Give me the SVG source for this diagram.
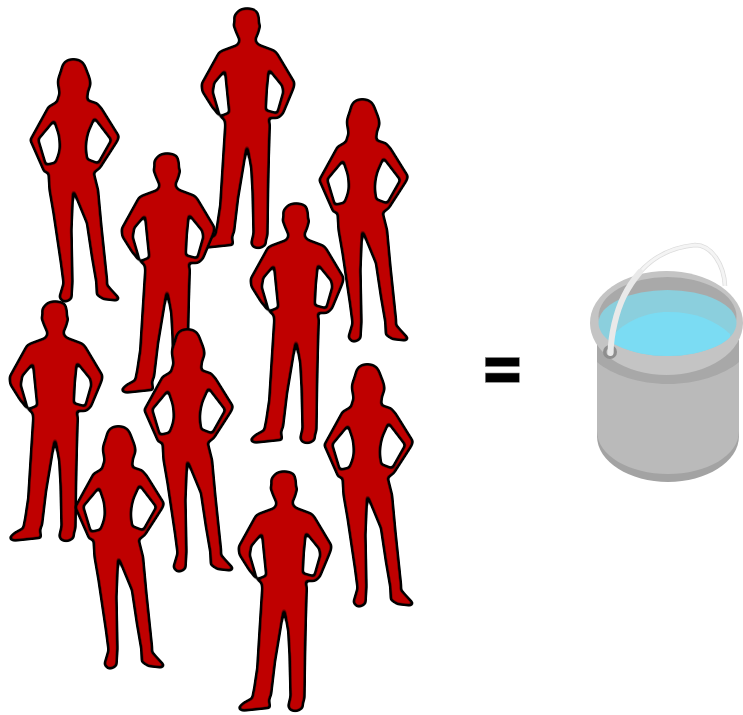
<svg xmlns="http://www.w3.org/2000/svg" xmlns:xlink="http://www.w3.org/1999/xlink" width="743" height="715" viewBox="0 0 743 715">
<style>
.fig{fill:#000;fill-rule:evenodd;filter:url(#outline)}
</style>
<defs>
<filter id="outline" x="-15%" y="-10%" width="130%" height="120%" color-interpolation-filters="sRGB">
<feGaussianBlur in="SourceAlpha" stdDeviation="1.4" result="b"/>
<feComponentTransfer in="b" result="outer"><feFuncA type="linear" slope="5" intercept="-.75"/></feComponentTransfer>
<feComponentTransfer in="b" result="inner"><feFuncA type="linear" slope="5" intercept="-3.75"/></feComponentTransfer>
<feFlood flood-color="#000" result="k"/>
<feComposite in="k" in2="outer" operator="in" result="line"/>
<feFlood flood-color="#bf0000" result="r"/>
<feComposite in="r" in2="inner" operator="in" result="body"/>
<feMerge><feMergeNode in="line"/><feMergeNode in="body"/></feMerge>
</filter>
<path id="man" d="M44.700 .3C52 .3 56.300 3 56.300 7C57.500 10 57 13 57.300 15.300L58.300 18L56.300 25.300L53.700 31.300C54 34 55.500 36 58 37L71.300 42C74 43 75 45 76.300 47L92.300 73.700C93 77 92 80 90.300 83.700L81.300 105.300C79 108 77 110.300 74.700 110.300L67 110.300L68 117L67 150.300L66.300 183.700L65.700 227L64.300 232L63.700 237C61 239 59 240.300 56.300 240.300C53 240.300 51 239 50.300 237.700L49 235.300L51.300 225.300L50.300 183.700L49 160.300L45 137.700L41.300 160.300L36.300 190.300L32.300 223.700L30.300 228.700L31.300 237L5 239.700C1 239.700 -1 237 0 236L4 232L13 227L15 217L18 197L20.300 160L23 117L22.300 112L16.300 107L9.700 98.700L.3 83.700C-.5 80 -.7 78 -.3 75.300L16.300 45.300C18 43.500 19.500 42.500 21.300 42L34.700 37C36 36 37 34 37.300 32L33.700 23.700L31.300 17L32.300 13.700C32 10 32 7 33 7C35 3 39 .3 44.700 .3Z
M22.800 63L12.500 75L11 84L18 108L27 104.500L25 85Z
M67 62L80 78L81 84L75 105L64 102L65 82Z"/>
<path id="woman" d="M43.300 0C50 0 54 3 56 9C57.500 14 60.700 19 60.700 24.300C60.500 28 59 30 58.300 32.700C57.500 36 57.500 39 57.700 41L67.300 44.300L71.700 49.300L89 77C89 80 87 83 85 86L70 109.300L64 113.700L68.300 131L71.700 167.700L77.300 221L77.300 226L89.300 239.300L86.700 241.700L73.300 240.300L66.700 236L66 222.700L61.700 197.700L56.700 164.300L43.300 131.700L41.700 171L42.700 222.700L41.700 239.300C40 241.500 37 242.700 35 242.700C32 242.700 30 240 29.300 237.700L33.300 224.300L30.700 204.300L23.300 154.300L19.300 131L18.300 114.300L14 112.700L0 81L18.300 47.700L26.700 42.700L29.300 34.300L27.700 24.300C27.700 18 30.500 14 31.500 9C33 3 37 0 43.300 0Z
M24 62L8.500 80.500L16 105.500L25 103.500C28 97 29.500 92 29.500 87.700C29.500 82 29 78 28 74Z
M64.500 59.500L81 81L68 104L57.500 100C56.500 94 56 90 56.300 86C56.500 81 57.500 77 59 72Z"/>
<clipPath id="water"><ellipse cx="667.500" cy="323" rx="69" ry="33"/></clipPath>
</defs>
<rect width="743" height="715" fill="#fff"/>
<g id="man-1"><use xlink:href="#man" href="#man" class="fig" x="202" y="8"/></g>
<g id="woman-1"><use xlink:href="#woman" href="#woman" class="fig" x="30" y="59"/></g>
<g id="woman-2"><use xlink:href="#woman" href="#woman" class="fig" x="319" y="99"/></g>
<g id="man-2"><use xlink:href="#man" href="#man" class="fig" x="122" y="153"/></g>
<g id="man-3"><use xlink:href="#man" href="#man" class="fig" x="251" y="203"/></g>
<g id="man-4"><use xlink:href="#man" href="#man" class="fig" x="10" y="301"/></g>
<g id="woman-3"><use xlink:href="#woman" href="#woman" class="fig" x="144" y="329"/></g>
<g id="woman-5"><use xlink:href="#woman" href="#woman" class="fig" x="324" y="364"/></g>
<g id="woman-4"><use xlink:href="#woman" href="#woman" class="fig" x="75" y="426"/></g>
<g id="man-5"><use xlink:href="#man" href="#man" class="fig" x="239" y="471"/></g>
<g id="equals" fill="#000" stroke="#8a8a8a" stroke-width=".6">
<rect x="485.300" y="357.500" width="34" height="9"/>
<rect x="485.300" y="373" width="34" height="9.300"/>
</g>
<g id="bucket">
<path d="M640 272C655 255 675 247 695 245C712 245 724 265 725 286" fill="none" stroke="#dcdcdc" stroke-width="4.500"/>
<path d="M640 272C655 255 675 247 695 245C712 245 724 265 725 286" fill="none" stroke="#f4f4f4" stroke-width="3"/>
<path d="M597 415V436C597 462 630 482 668 482C706 482 739 462 739 436V415Z" fill="#a3a3a3"/>
<path d="M597 340H739V431C739 456 706 474 668 474C630 474 597 456 597 431Z" fill="#bababa"/>
<path d="M597 340V362C612 375 640 384 668 384C696 384 724 375 739 362V340Z" fill="#a8a8a8"/>
<ellipse cx="666.500" cy="323" rx="76.500" ry="52" fill="#c4c4c4"/>
<ellipse cx="667.500" cy="316.500" rx="69" ry="39.500" fill="#a9a9a9"/>
<ellipse cx="667.500" cy="323" rx="69" ry="33" fill="#8bcfdd"/>
<g clip-path="url(#water)"><path d="M612 336C625 322 645 312 668 312C695 312 715 320 730 334V362H612Z" fill="#7bdcf3"/></g>
<circle cx="610" cy="352" r="7" fill="#8e8e8e"/>
<circle cx="610" cy="352" r="3.500" fill="#c8c8c8"/>
<path d="M610.500 353C611 335 616 312 624 296C629 286 634 279 640 272" fill="none" stroke="#e9e9e9" stroke-width="6" stroke-linecap="round"/>
</g>
</svg>
